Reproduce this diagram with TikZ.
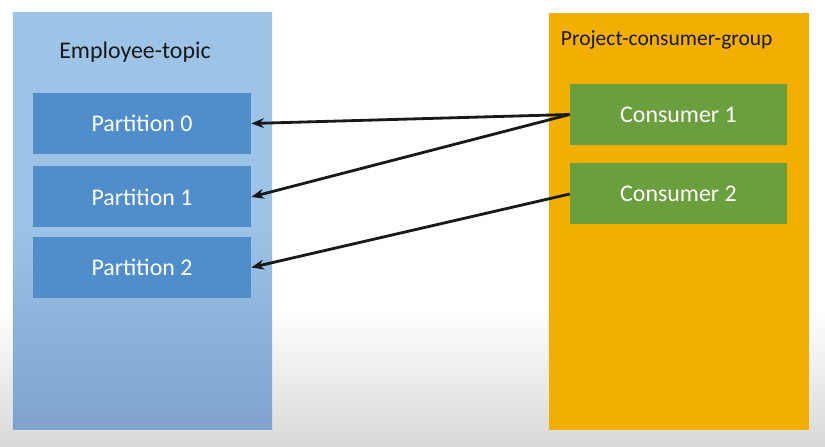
\documentclass[tikz,border=0pt]{standalone}
\usepackage{fontspec}
\setmainfont{Carlito}
\usetikzlibrary{arrows.meta}
\definecolor{topicblue}{HTML}{9DC3E6}
\definecolor{topicdark}{HTML}{7FA3CE}
\definecolor{partblue}{HTML}{4F8DCB}
\definecolor{groupgold}{HTML}{F3AF00}
\definecolor{consgreen}{HTML}{6B9E3C}
\tikzset{
  partbox/.style={fill=partblue, text=white, minimum width=5.45cm, minimum height=1.525cm, font=\fontsize{17}{20}\selectfont},
  consbox/.style={fill=consgreen, text=white, minimum width=5.425cm, minimum height=1.525cm, font=\fontsize{17}{20}\selectfont},
  grouptitle/.style={text=black!90, font=\fontsize{17}{20}\selectfont},
  link/.style={-{Stealth[length=9pt,width=7pt]}, line width=2pt, black!90}
}
\begin{document}
\begin{tikzpicture}
	% Hintergrund
	\useasboundingbox (0, 0) rectangle (20.625, 11.175);
	\fill[white] (0, 0) rectangle (20.625, 11.175);
	\shade[top color=white, bottom color=black!15] (0, 0) rectangle (20.625, 3.5);
	
	% Topic
	\shade[top color=topicblue, bottom color=topicdark, middle color=topicblue] (0.325, 0.425) rectangle (6.8, 10.85);
	\node[grouptitle] (topic) at (3.375, 9.875) {Employee-topic};
	\node[partbox] (p0) at (3.55, 8.0875) {Partition 0};
	\node[partbox] (p1) at (3.55, 6.25) {Partition 1};
	\node[partbox] (p2) at (3.55, 4.4875) {Partition 2};
	
	% Consumer group
	\fill[groupgold] (13.725, 0.425) rectangle (20.225, 10.85);
	\node[grouptitle, anchor=west, font=\fontsize{15.3}{18}\selectfont] (group) at (13.9, 10.175) {Project-consumer-group};
	\node[consbox] (c1) at (16.9625, 8.3125) {Consumer 1};
	\node[consbox] (c2) at (16.9625, 6.325) {Consumer 2};
	
	% Zuordnung
	\draw[link] (c1.west) -- (p0.east);
	\draw[link] (c1.west) -- (p1.east);
	\draw[link] (c2.west) -- (p2.east);
\end{tikzpicture}
\end{document}
